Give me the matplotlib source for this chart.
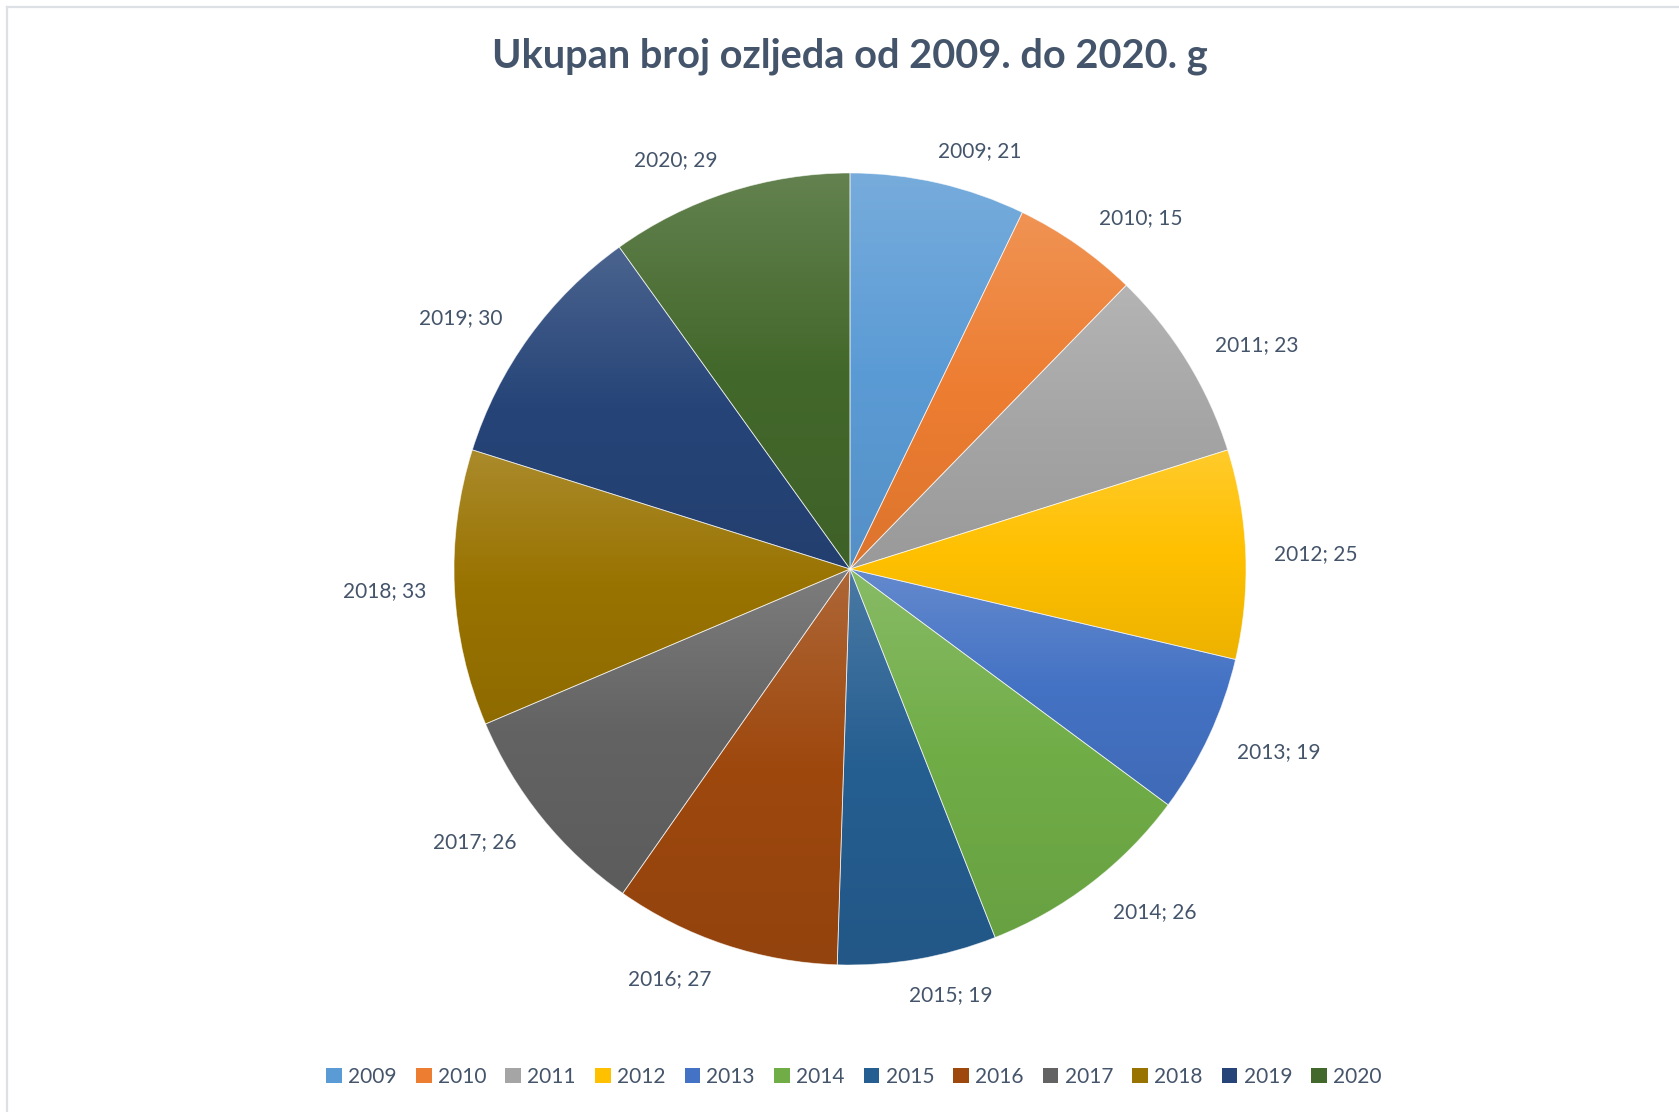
import numpy as np
import matplotlib
matplotlib.use("Agg")
import matplotlib.pyplot as plt
from matplotlib.patches import Patch
from matplotlib.colors import to_rgb
from matplotlib.lines import Line2D

# ---- data ----
years = ["2009", "2010", "2011", "2012", "2013", "2014",
         "2015", "2016", "2017", "2018", "2019", "2020"]
injuries = [21, 15, 23, 25, 19, 26, 19, 27, 26, 33, 30, 29]
colors = ["#5B9BD5", "#ED7D31", "#A5A5A5", "#FFC000", "#4472C4", "#70AD47",
          "#255E91", "#9E480E", "#636363", "#997300", "#264478", "#43682B"]
title = "Ukupan broj ozljeda od 2009. do 2020. g"

TXT = "#44546A"
W, H = 1679, 1112
CX, CY, R = 850, 569, 396

fig = plt.figure(figsize=(W / 100, H / 100), dpi=100)
fig.patch.set_facecolor("white")
ax = fig.add_axes([0, 0, 1, 1])
ax.set_xlim(-CX / R, (W - CX) / R)
ax.set_ylim(-(H - CY) / R, CY / R)
ax.set_aspect("equal")
ax.axis("off")

wedges, _ = ax.pie(injuries, colors=colors, startangle=90, counterclock=False,
                   radius=1.0, center=(0, 0),
                   wedgeprops=dict(edgecolor=(1, 1, 1, 0.6), linewidth=0.6))
ax.set_xlim(-CX / R, (W - CX) / R)
ax.set_ylim(-(H - CY) / R, CY / R)

# gradient fill per wedge
for w, c in zip(wedges, colors):
    base = np.array(to_rgb(c))
    top = base + (1 - base) * 0.17
    bot = base * 0.93
    n = 256
    t = np.linspace(0, 1, n)[:, None]  # 0 top -> 1 bottom
    grad = np.where(t < 0.5,
                    top + (base - top) * (t / 0.5),
                    base + (bot - base) * ((t - 0.5) / 0.5))
    img = grad[:, None, :].repeat(2, axis=1)
    verts = w.get_path().vertices
    verts = w.get_patch_transform().transform(verts)
    x0, x1 = verts[:, 0].min(), verts[:, 0].max()
    y0, y1 = verts[:, 1].min(), verts[:, 1].max()
    im = ax.imshow(img, extent=(x0, x1, y0, y1), origin="upper",
                   aspect="auto", interpolation="bilinear", zorder=1)
    im.set_clip_path(w)
    w.set_facecolor("none")
    w.set_zorder(2)

# data labels (outside end)
total = sum(injuries)
cum = np.cumsum([0] + injuries[:-1])
hw, hh = 42 / R, 11 / R
for yr, v, c0 in zip(years, injuries, cum):
    mid = np.deg2rad(90 - (c0 + v / 2) / total * 360)
    ux, uy = np.cos(mid), np.sin(mid)
    x = (1.07 * ux + hw * np.clip(3 * ux, -1, 1)
         + 0.017 * np.sign(ux) * np.sqrt(max(0.0, 1 - ux ** 2)))
    y = 1.06 * uy + hh * uy - 0.004
    ax.text(x, y, f"{yr}; {v}", ha="center", va="center", fontsize=15,
            family="Lato", color=TXT)

fig.text(CX / W, 1 - 56 / H, title, ha="center", va="center",
         fontsize=28.6, fontweight="bold", family="Lato", color=TXT)

handles = [Patch(facecolor=c, edgecolor="none") for c in colors]
fig.legend(handles, years, loc="center", bbox_to_anchor=(854 / W, 1 - 1077 / H),
           ncol=12, frameon=False, prop=dict(family="Lato", size=15),
           handlelength=0.75, handleheight=0.75, handletextpad=0.3,
           columnspacing=0.92, labelcolor=TXT)

# chart area border (top and left visible)
fig.add_artist(Line2D([7 / W, 7 / W], [0, 1 - 7 / H], transform=fig.transFigure,
                      color="#DDE1E6", lw=1.6))
fig.add_artist(Line2D([7 / W, 1], [1 - 7 / H, 1 - 7 / H], transform=fig.transFigure,
                      color="#DDE1E6", lw=1.6))

fig.savefig("out.png", dpi=100, facecolor="white")
